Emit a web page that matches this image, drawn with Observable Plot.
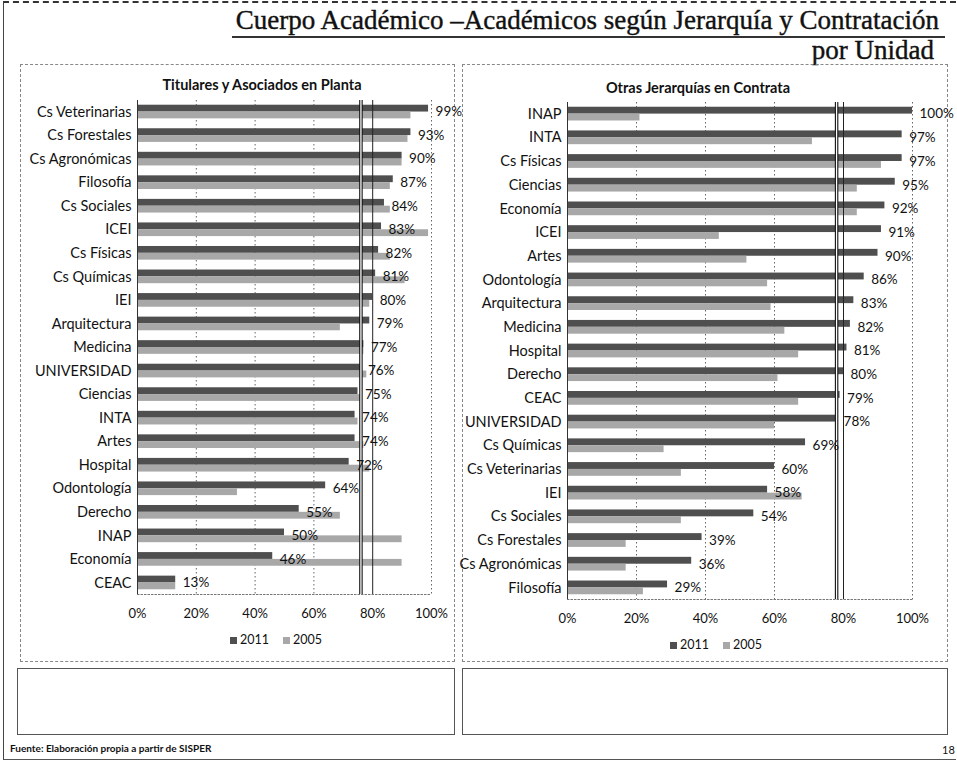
<!DOCTYPE html>
<html><head><meta charset="utf-8">
<script src="https://cdn.jsdelivr.net/npm/d3@7"></script>
<script src="https://cdn.jsdelivr.net/npm/@observablehq/plot@0.6"></script>
<style>
body{margin:0;background:#fff;}
#page{position:relative;width:957px;height:761px;overflow:hidden;font-family:Lato,"Open Sans",sans-serif;background:#fff;color:#111;}
.abs{position:absolute;}
.ttl{font-family:"Liberation Serif",serif;font-size:27px;white-space:nowrap;line-height:1;color:#111;-webkit-text-stroke:0.4px #111;}
.ptitle{font-weight:bold;font-size:14.5px;white-space:nowrap;transform:translateX(-50%);}
.legend{font-size:12.5px;white-space:nowrap;transform:translateX(-50%);display:flex;gap:14px;align-items:center;}
.sw{display:inline-block;width:7px;height:7px;margin-right:3px;vertical-align:middle;}
</style></head><body><div id="page">
<div class="abs" style="left:3px;top:1px;width:952px;height:756px;border-left:1px solid #444;border-top:2px dashed #333;border-bottom:1px solid #555;"></div>
<div class="abs ttl" style="right:18px;top:7px;">Cuerpo Académico –Académicos según Jerarquía y Contratación</div>
<div class="abs" style="left:232px;top:36px;width:713px;border-top:2px solid #333;"></div>
<div class="abs ttl" style="right:23px;top:37px;">por Unidad</div>
<div class="abs" style="left:20px;top:64px;width:435px;height:598px;border:1px dashed #888;box-sizing:border-box;"></div>
<div class="abs" style="left:462px;top:64px;width:486px;height:598px;border:1px dashed #888;box-sizing:border-box;"></div>
<div class="abs ptitle" style="left:262px;top:76px;">Titulares y Asociados en Planta</div>
<div class="abs ptitle" style="left:698px;top:79px;">Otras Jerarquías en Contrata</div>
<div id="left" class="abs" style="left:20px;top:92px;"></div>
<div id="right" class="abs" style="left:462px;top:92px;"></div>
<div id="legL" class="abs legend" style="left:276px;top:632px;"></div>
<div id="legR" class="abs legend" style="left:716px;top:637px;"></div>
<div class="abs" style="left:17px;top:668px;width:438px;height:67px;border:1px solid #555;box-sizing:border-box;"></div>
<div class="abs" style="left:462px;top:668px;width:486px;height:67px;border:1px solid #555;box-sizing:border-box;"></div>
<div class="abs" style="left:10px;top:742px;font-size:10px;font-weight:bold;white-space:nowrap;">Fuente: Elaboración propia a partir de SISPER</div>
<div class="abs" style="left:942px;top:743px;font-size:11px;">18</div>
</div>
<script>
const years = ["2011", "2005"];
const yearColors = ["#4f4f4f", "#a8a8a8"];

const leftUnits = ["Cs Veterinarias","Cs Forestales","Cs Agronómicas","Filosofía","Cs Sociales","ICEI","Cs Físicas","Cs Químicas","IEI","Arquitectura","Medicina","UNIVERSIDAD","Ciencias","INTA","Artes","Hospital","Odontología","Derecho","INAP","Economía","CEAC"];
const left2011 = [99,93,90,87,84,83,82,81,80,79,77,76,75,74,74,72,64,55,50,46,13];
const left2005 = [93,92,90,86,86,99,86,91,79,69,77,78,76,75,77,79,34,69,90,90,13];

const rightUnits = ["INAP","INTA","Cs Físicas","Ciencias","Economía","ICEI","Artes","Odontología","Arquitectura","Medicina","Hospital","Derecho","CEAC","UNIVERSIDAD","Cs Químicas","Cs Veterinarias","IEI","Cs Sociales","Cs Forestales","Cs Agronómicas","Filosofía"];
const right2011 = [100,97,97,95,92,91,90,86,83,82,81,80,79,78,69,60,58,54,39,36,29];
const right2005 = [21,71,91,84,84,44,52,58,59,63,67,61,67,60,28,33,68,33,17,17,22];

const xTicks = [0,20,40,60,80,100];

function panel(units, v11, v05, o) {
  const d11 = units.map((u,i)=>({unit:u, year:years[0], value:v11[i]}));
  const d05 = units.map((u,i)=>({unit:u, year:years[1], value:v05[i]}));
  const ref = d11.find(d=>d.unit==="UNIVERSIDAD").value;
  const pi = 0.42, po = 0.2;
  const fh = o.height - o.mt - o.mb;
  const step = fh / (units.length - pi + 2*po);
  const bw = step*(1-pi);
  return Plot.plot({
    width:o.width, height:o.height,
    marginLeft:o.ml, marginRight:o.mr, marginTop:o.mt, marginBottom:o.mb,
    style:{fontFamily:"Lato, sans-serif", fontSize:"14px", color:"#111", background:"transparent", overflow:"visible"},
    x:{domain:[0,100], label:null},
    y:{domain:units, paddingInner:pi, paddingOuter:po, round:false, label:null},
    marks:[
      Plot.ruleX([20,40,60,100], {stroke:"#666", strokeDasharray:"1.5,2.5"}),
      Plot.barX(d11, {x:"value", y:"unit", fill:yearColors[0], insetBottom:bw/2}),
      Plot.barX(d05, {x:"value", y:"unit", fill:yearColors[1], insetTop:bw/2}),
      Plot.ruleX([80], {stroke:"#222", strokeWidth:1}),
      Plot.ruleX([ref], {stroke:"#111", strokeWidth:3.5}),
      Plot.ruleX([ref], {stroke:"#fff", strokeWidth:1.3}),
      Plot.ruleX([0], {stroke:"#333"}),
      Plot.text(d11, {x:"value", y:"unit", text:d=>d.value+"%", dx:7, textAnchor:"start", fontSize:13.5, fill:"#111"}),
      Plot.axisY({tickSize:0, tickPadding:6, fontSize:14.5}),
      Plot.axisX({ticks:xTicks, tickFormat:d=>d+"%", tickSize:0, tickPadding:14, fontSize:13}),
      Plot.frame({anchor:"bottom", stroke:"#777", strokeDasharray:"1.5,2"})
    ]
  });
}

document.getElementById("left").appendChild(panel(leftUnits, left2011, left2005, {width:435, height:532, ml:117, mr:24, mt:8, mb:30}));
document.getElementById("right").appendChild(panel(rightUnits, right2011, right2005, {width:486, height:537, ml:105, mr:36, mt:10, mb:30}));

for (const id of ["legL","legR"]) {
  const el = document.getElementById(id);
  years.forEach((y,i)=>{
    const s = document.createElement("span");
    s.innerHTML = `<span class="sw" style="background:${yearColors[i]}"></span>${y}`;
    el.appendChild(s);
  });
}
</script>
</body></html>
